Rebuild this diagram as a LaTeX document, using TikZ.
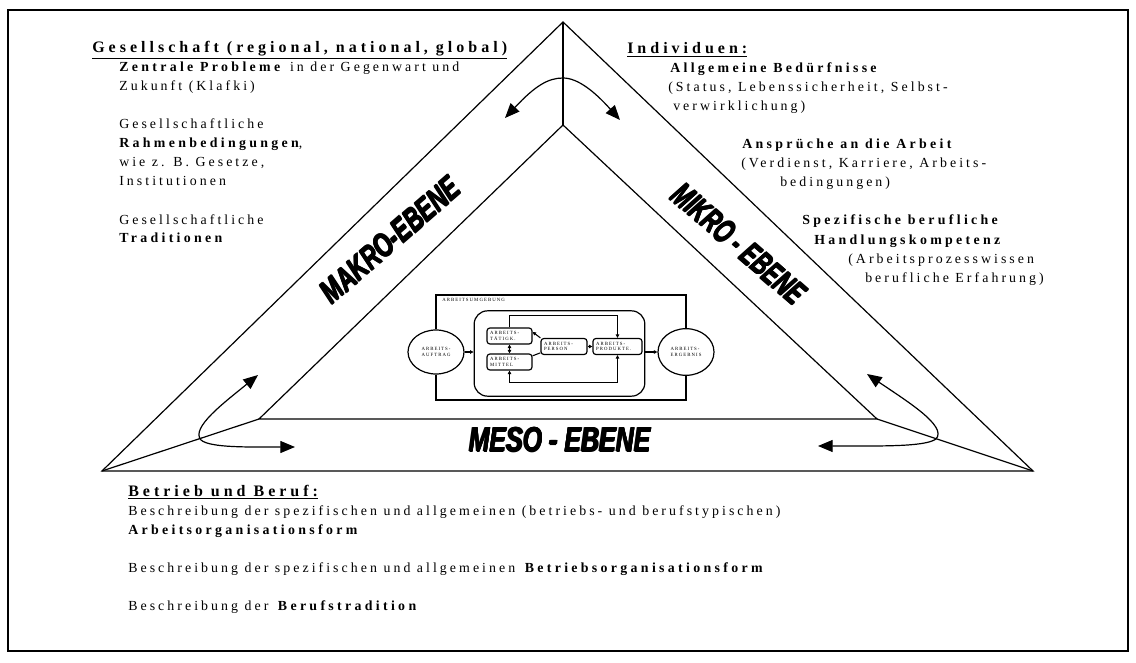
\documentclass[tikz,border=0pt]{standalone}
\usepackage{fontspec}
\setmainfont{Liberation Serif}[LetterSpace=22,BoldFeatures={LetterSpace=24}]
\newfontfamily\headfont{Liberation Serif}[LetterSpace=25,BoldFeatures={LetterSpace=25}]
\newfontfamily\heavyfont{Liberation Sans}
\usetikzlibrary{arrows.meta,shapes.geometric}

% thickened heavy lettering for the level names
\newcommand\fatlbl[1]{\rlap{\kern0.7pt#1}\rlap{\kern-0.7pt#1}\rlap{\raisebox{0.6pt}{#1}}\rlap{\raisebox{-0.6pt}{#1}}#1}

\begin{document}
\begin{tikzpicture}[x=0.75pt,y=-0.75pt,
  txt/.style={anchor=base west,inner sep=0pt,font=\fontsize{10.4}{14}\selectfont},
  head/.style={anchor=base west,inner sep=0pt,font=\headfont\bfseries\fontsize{12}{14}\selectfont},
  level/.style={inner sep=0pt,font=\heavyfont\bfseries\itshape\fontsize{26}{26}\selectfont},
  edge/.style={line width=0.9pt},
  bigtip/.style={line width=0.9pt,{Triangle[length=11pt,width=9pt]}-{Triangle[length=11pt,width=9pt]}},
  tiny/.style={font=\fontsize{3.6}{4.3}\selectfont},
  sbox/.style={draw,rounded corners=2.2pt,line width=0.9pt,inner sep=1.2pt,
    tiny,align=left,text width=27pt,minimum height=12pt},
  flow/.style={line width=0.8pt},
  oneway/.style={-{Triangle[length=2.6pt,width=2.6pt]}},
  twoway/.style={{Triangle[length=2.6pt,width=2.6pt]}-{Triangle[length=2.6pt,width=2.6pt]}}
]
\useasboundingbox (0,0) rectangle (1136,663);

% page frame
\draw[line width=1.4pt] (8,10) rectangle (1128,651);

% the three levels: outer and inner triangle with their seams
\coordinate (oA) at (563,22);
\coordinate (oL) at (102,471);
\coordinate (oR) at (1033,471);
\coordinate (iA) at (563,125);
\coordinate (iL) at (259,419);
\coordinate (iR) at (877,419);
\draw[edge] (oL) -- (oA) -- (oR) -- cycle;
\draw[edge] (iL) -- (iA) -- (iR) -- cycle;
\draw[edge] (oA) -- (iA);
\draw[edge] (oL) -- (iL);
\draw[edge] (oR) -- (iR);

% curved exchange arrows at the corners
\coordinate (tA) at (505,118);
\coordinate (tB) at (620,120);
\draw[bigtip] (tA) .. controls (535,86) and (548,78) .. (563,78)
  .. controls (578,78) and (595,92) .. (tB);
\coordinate (lA) at (258,375);
\coordinate (lB) at (295,447);
\draw[bigtip] (lA) .. controls (225,402) and (190,428) .. (201,440)
  .. controls (210,448) and (250,447) .. (lB);
\coordinate (rA) at (867,374);
\coordinate (rB) at (818,446);
\draw[bigtip] (rA) .. controls (905,400) and (948,426) .. (936,439)
  .. controls (925,447) and (880,446) .. (rB);

% level names
\node[level,rotate=41] (makro) at (390,240) {\scalebox{0.66}[0.95]{\fatlbl{MAKRO-EBENE}}};
\node[level,rotate=-41] (mikro) at (739,244) {\scalebox{0.62}[0.95]{\fatlbl{MIKRO - EBENE}}};
\node[level] (meso) at (560,440) {\scalebox{0.72}[1]{\fatlbl{MESO - EBENE}}};

% society
\node[head] (g1) at (92,53) {\underline{Gesellschaft (regional, national, global)}};
\node[txt] (g2) at (119,72) {\textbf{Zentrale Probleme} in der Gegenwart und};
\node[txt] (g3) at (119,91) {Zukunft (Klafki)};
\node[txt] (g4) at (119,129) {Gesellschaftliche};
\node[txt] (g5) at (119,148) {\textbf{Rahmenbedingungen},};
\node[txt] (g6) at (119,167) {wie z. B. Gesetze,};
\node[txt] (g7) at (119,186) {Institutionen};
\node[txt] (g8) at (119,224) {Gesellschaftliche};
\node[txt] (g9) at (119,243) {\textbf{Traditionen}};

% individuals
\node[head] (i1) at (627,54) {\underline{Individuen:}};
\node[txt] (i2) at (670,73) {\textbf{Allgemeine Bedürfnisse}};
\node[txt] (i3) at (668,92) {(Status, Lebenssicherheit, Selbst-};
\node[txt] (i4) at (673,111) {verwirklichung)};
\node[txt] (i5) at (742,149) {\textbf{Ansprüche an die Arbeit}};
\node[txt] (i6) at (741,168) {(Verdienst, Karriere, Arbeits-};
\node[txt] (i7) at (780,187) {bedingungen)};
\node[txt] (i8) at (802,225) {\textbf{Spezifische berufliche}};
\node[txt] (i9) at (814,244) {\textbf{Handlungskompetenz}};
\node[txt] (i10) at (848,263) {(Arbeitsprozesswissen};
\node[txt] (i11) at (865,282) {berufliche Erfahrung)};

% company and occupation
\node[head] (b1) at (128,496) {\underline{Betrieb und Beruf:}};
\node[txt] (b2) at (128,515) {Beschreibung der spezifischen und allgemeinen (betriebs- und berufstypischen)};
\node[txt] (b3) at (128,534) {\textbf{Arbeitsorganisationsform}};
\node[txt] (b4) at (128,572) {Beschreibung der spezifischen und allgemeinen \textbf{Betriebsorganisationsform}};
\node[txt] (b5) at (128,610) {Beschreibung der \textbf{Berufstradition}};

% work process model in the centre
\node[draw,fill=white,ellipse,line width=0.9pt,minimum width=42pt,minimum height=33pt,
  inner sep=0pt,tiny,align=left] (auftrag) at (436,352) {ARBEITS-\\AUFTRAG};
\node[draw,fill=white,ellipse,line width=0.9pt,minimum width=42pt,minimum height=35pt,
  inner sep=0pt,tiny,align=left] (ergebnis) at (686,352) {ARBEITS-\\ERGEBNIS};
\coordinate (uL) at (436,295);
\coordinate (dL) at (436,400);
\draw[line width=1.1pt] (auftrag.north) -- (uL) -| (ergebnis.north);
\draw[line width=1.1pt] (auftrag.south) -- (dL) -| (ergebnis.south);
\node[tiny,anchor=north west,inner sep=0pt] (umgebung) at (442,298) {ARBEITSUMGEBUNG};

\node[draw,rounded corners=10pt,line width=0.9pt,minimum width=128pt,minimum height=64pt]
  (system) at (559.5,353.5) {};
\node[sbox,minimum width=33.75pt,text width=29pt] (taet) at (509.5,336) {ARBEITS-\\TÄTIGK.};
\node[sbox,minimum width=33.75pt,text width=29pt] (mittel) at (509.5,362) {ARBEITS-\\MITTEL};
\node[sbox,minimum width=34.5pt,text width=30pt] (person) at (564,346.5) {ARBEITS-\\PERSON};
\node[sbox,minimum width=36.75pt,text width=32pt] (produkt) at (617.5,346.5) {ARBEITS-\\PRODUKTE.};

\draw[flow,oneway] (auftrag.east) -- (auftrag.east -| system.west);
\draw[flow,oneway] (system.east |- ergebnis.west) -- (ergebnis.west);
\draw[flow,twoway] (taet.south) -- (mittel.north);
\draw[flow,oneway] (person.160) -- (taet.10);
\draw[flow] (person.195) -- (mittel.15);
\draw[flow,oneway] (person.east) -- (produkt.west);
\draw[flow,oneway] (taet.north) -- ++(0,-12) -| (produkt.north);
\draw[flow,twoway] (mittel.south) -- ++(0,12) -| (produkt.south);
\end{tikzpicture}
\end{document}
